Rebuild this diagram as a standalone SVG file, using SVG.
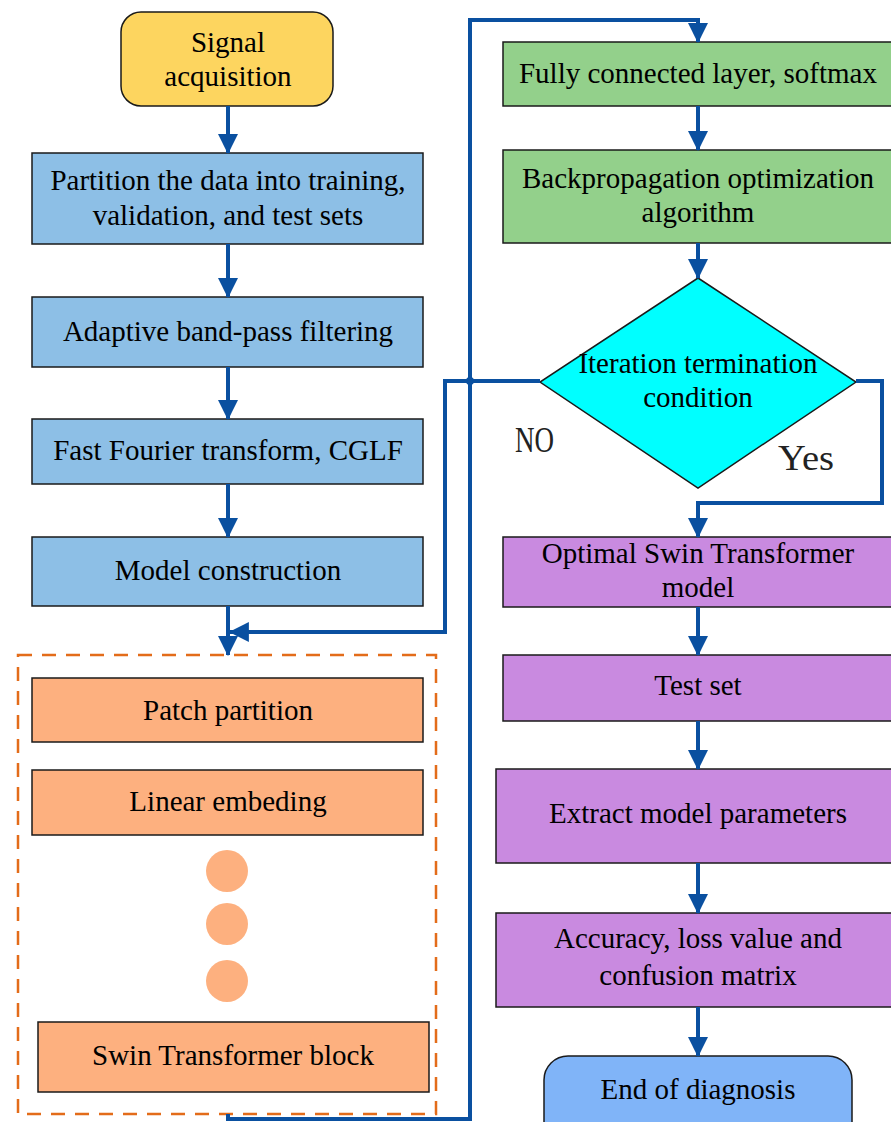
<svg xmlns="http://www.w3.org/2000/svg" width="891" height="1122" viewBox="0 0 891 1122">
  <style>
    .box { stroke: #1a1a1a; stroke-width: 1.5; }
    .blue { fill: #8dbfe6; }
    .orange { fill: #fdb07f; }
    .green { fill: #93d08b; }
    .purple { fill: #c98ae0; }
    .lbl { font-family: "Liberation Serif", "Times New Roman", serif; font-size: 29px; fill: #000; text-anchor: middle; }
    .tag { font-family: "Liberation Serif", "Times New Roman", serif; font-size: 35px; fill: #222; }
    .wire { fill: none; stroke: #0a50a0; stroke-width: 4; stroke-linejoin: miter; }
    .arrow { marker-end: url(#head); }
  </style>
  <defs>
    <marker id="head" markerUnits="userSpaceOnUse" markerWidth="20" markerHeight="20" viewBox="0 0 18 18" refX="17" refY="9" orient="auto">
      <path d="M0,0 L18,9 L0,18 Z" fill="#0a50a0"/>
    </marker>
  </defs>

  <rect width="891" height="1122" fill="#ffffff"/>

  <!-- left column -->
  <g id="signal">
    <rect class="box" x="121" y="12" width="212" height="94" rx="20" fill="#fdd55f"/>
    <text class="lbl" x="228" y="52">Signal</text>
    <text class="lbl" x="228" y="86">acquisition</text>
  </g>
  <g id="partition">
    <rect class="box blue" x="32" y="153" width="391" height="91"/>
    <text class="lbl" x="228" y="190">Partition the data into training,</text>
    <text class="lbl" x="228" y="225">validation, and test sets</text>
  </g>
  <g id="bandpass">
    <rect class="box blue" x="32" y="297" width="391" height="70"/>
    <text class="lbl" x="228" y="341">Adaptive band-pass filtering</text>
  </g>
  <g id="fft">
    <rect class="box blue" x="32" y="419" width="391" height="65"/>
    <text class="lbl" x="228" y="460">Fast Fourier transform, CGLF</text>
  </g>
  <g id="construction">
    <rect class="box blue" x="32" y="537" width="391" height="69"/>
    <text class="lbl" x="228" y="580">Model construction</text>
  </g>

  <g id="swin-group">
    <rect x="18" y="655" width="418" height="459" fill="none" stroke="#e36c1a" stroke-width="2.5" stroke-dasharray="14 10"/>
    <g id="patch">
      <rect class="box orange" x="32" y="678" width="391" height="64"/>
      <text class="lbl" x="228" y="720">Patch partition</text>
    </g>
    <g id="embed">
      <rect class="box orange" x="32" y="770" width="391" height="65"/>
      <text class="lbl" x="228" y="811">Linear embeding</text>
    </g>
    <g id="ellipsis" fill="#fdb07f">
      <circle cx="227" cy="871" r="21"/>
      <circle cx="227" cy="924" r="21"/>
      <circle cx="227" cy="981" r="21"/>
    </g>
    <g id="swin-block">
      <rect class="box orange" x="38" y="1022" width="391" height="70"/>
      <text class="lbl" x="233" y="1065">Swin Transformer block</text>
    </g>
  </g>

  <!-- right column -->
  <g id="fc">
    <rect class="box green" x="503" y="42" width="392" height="64"/>
    <text class="lbl" x="698" y="83">Fully connected layer, softmax</text>
  </g>
  <g id="backprop">
    <rect class="box green" x="503" y="150" width="392" height="93"/>
    <text class="lbl" x="698" y="188">Backpropagation optimization</text>
    <text class="lbl" x="698" y="222">algorithm</text>
  </g>
  <g id="decision">
    <polygon points="698,278 856,382 698,488 540,382" fill="#00ffff" stroke="#1a1a1a" stroke-width="1.5"/>
    <text class="lbl" x="698" y="373">Iteration termination</text>
    <text class="lbl" x="698" y="407">condition</text>
  </g>
  <g id="optimal">
    <rect class="box purple" x="503" y="537" width="392" height="70"/>
    <text class="lbl" x="698" y="563">Optimal Swin Transformer</text>
    <text class="lbl" x="698" y="597">model</text>
  </g>
  <g id="testset">
    <rect class="box purple" x="503" y="655" width="392" height="66"/>
    <text class="lbl" x="698" y="695">Test set</text>
  </g>
  <g id="extract">
    <rect class="box purple" x="496" y="769" width="399" height="94"/>
    <text class="lbl" x="698" y="823">Extract model parameters</text>
  </g>
  <g id="metrics">
    <rect class="box purple" x="496" y="913" width="399" height="94"/>
    <text class="lbl" x="698" y="948">Accuracy, loss value and</text>
    <text class="lbl" x="698" y="985">confusion matrix</text>
  </g>
  <g id="end">
    <rect class="box" x="544" y="1056" width="308" height="90" rx="24" fill="#80b4f8"/>
    <text class="lbl" x="698" y="1099">End of diagnosis</text>
  </g>

  <!-- branch labels -->
  <text class="tag" x="515" y="452" textLength="39" lengthAdjust="spacingAndGlyphs">NO</text>
  <text class="tag" x="778" y="470" textLength="56" lengthAdjust="spacingAndGlyphs">Yes</text>

  <!-- connectors -->
  <g id="connectors">
    <path class="wire arrow" d="M228,106 V153"/>
    <path class="wire arrow" d="M228,244 V297"/>
    <path class="wire arrow" d="M228,367 V419"/>
    <path class="wire arrow" d="M228,484 V537"/>
    <path class="wire arrow" d="M228,606 V655"/>
    <path class="wire arrow" d="M540,381 H445 V632 H230"/>
    <path class="wire arrow" d="M228,1114 V1119 H470 V20 H698 V42"/>
    <circle cx="470" cy="381" r="4" fill="#0a50a0"/>
    <path class="wire arrow" d="M698,106 V150"/>
    <path class="wire arrow" d="M698,243 V278"/>
    <path class="wire arrow" d="M856,381 H882 V503 H698 V537"/>
    <path class="wire arrow" d="M698,607 V655"/>
    <path class="wire arrow" d="M698,721 V769"/>
    <path class="wire arrow" d="M698,863 V913"/>
    <path class="wire arrow" d="M698,1007 V1056"/>
  </g>
</svg>
